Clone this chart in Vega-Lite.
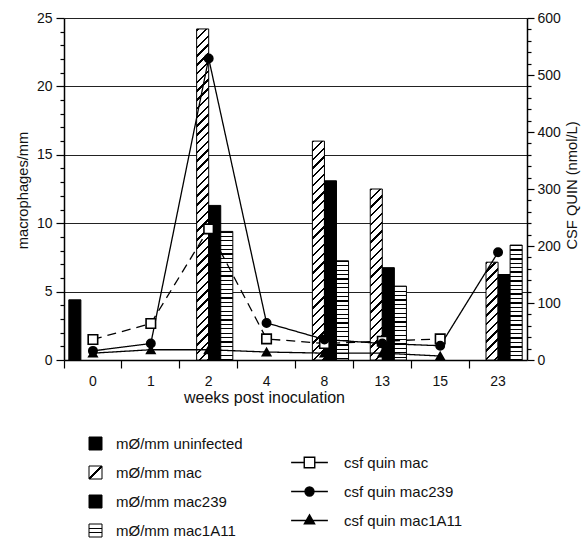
{
  "$schema": "https://vega.github.io/schema/vega-lite/v6.json",
  "width": 463,
  "height": 342,
  "autosize": "none",
  "padding": {"left": 64, "top": 18, "right": 57, "bottom": 181},
  "background": "#ffffff",
  "config": {
    "font": "Liberation Sans",
    "view": {"stroke": null},
    "axis": {"labelFont": "Liberation Sans", "titleFont": "Liberation Sans", "labelColor": "#111", "titleColor": "#111", "titleFontWeight": "normal", "labelFontSize": 14, "titleFontSize": 14.7, "domainColor": "#000", "tickColor": "#000", "domainWidth": 1.5, "tickWidth": 1.2},
    "legend": {"labelFont": "Liberation Sans", "labelFontSize": 15, "labelColor": "#111"}
  },
  "params": [
    {"name": "stripeStops", "value": [
      {"offset":0,"color":"#000"},{"offset":0.007,"color":"#000"},{"offset":0.007,"color":"#fff"},{"offset":0.025,"color":"#fff"},
      {"offset":0.025,"color":"#000"},{"offset":0.032,"color":"#000"},{"offset":0.032,"color":"#fff"},{"offset":0.05,"color":"#fff"},
      {"offset":0.05,"color":"#000"},{"offset":0.057,"color":"#000"},{"offset":0.057,"color":"#fff"},{"offset":0.075,"color":"#fff"},
      {"offset":0.075,"color":"#000"},{"offset":0.082,"color":"#000"},{"offset":0.082,"color":"#fff"},{"offset":0.1,"color":"#fff"},
      {"offset":0.1,"color":"#000"},{"offset":0.107,"color":"#000"},{"offset":0.107,"color":"#fff"},{"offset":0.125,"color":"#fff"},
      {"offset":0.125,"color":"#000"},{"offset":0.132,"color":"#000"},{"offset":0.132,"color":"#fff"},{"offset":0.15,"color":"#fff"},
      {"offset":0.15,"color":"#000"},{"offset":0.157,"color":"#000"},{"offset":0.157,"color":"#fff"},{"offset":0.175,"color":"#fff"},
      {"offset":0.175,"color":"#000"},{"offset":0.182,"color":"#000"},{"offset":0.182,"color":"#fff"},{"offset":0.2,"color":"#fff"},
      {"offset":0.2,"color":"#000"},{"offset":0.207,"color":"#000"},{"offset":0.207,"color":"#fff"},{"offset":0.225,"color":"#fff"},
      {"offset":0.225,"color":"#000"},{"offset":0.232,"color":"#000"},{"offset":0.232,"color":"#fff"},{"offset":0.25,"color":"#fff"},
      {"offset":0.25,"color":"#000"},{"offset":0.257,"color":"#000"},{"offset":0.257,"color":"#fff"},{"offset":0.275,"color":"#fff"},
      {"offset":0.275,"color":"#000"},{"offset":0.282,"color":"#000"},{"offset":0.282,"color":"#fff"},{"offset":0.3,"color":"#fff"},
      {"offset":0.3,"color":"#000"},{"offset":0.307,"color":"#000"},{"offset":0.307,"color":"#fff"},{"offset":0.325,"color":"#fff"},
      {"offset":0.325,"color":"#000"},{"offset":0.332,"color":"#000"},{"offset":0.332,"color":"#fff"},{"offset":0.35,"color":"#fff"},
      {"offset":0.35,"color":"#000"},{"offset":0.357,"color":"#000"},{"offset":0.357,"color":"#fff"},{"offset":0.375,"color":"#fff"},
      {"offset":0.375,"color":"#000"},{"offset":0.382,"color":"#000"},{"offset":0.382,"color":"#fff"},{"offset":0.4,"color":"#fff"},
      {"offset":0.4,"color":"#000"},{"offset":0.407,"color":"#000"},{"offset":0.407,"color":"#fff"},{"offset":0.425,"color":"#fff"},
      {"offset":0.425,"color":"#000"},{"offset":0.432,"color":"#000"},{"offset":0.432,"color":"#fff"},{"offset":0.45,"color":"#fff"},
      {"offset":0.45,"color":"#000"},{"offset":0.457,"color":"#000"},{"offset":0.457,"color":"#fff"},{"offset":0.475,"color":"#fff"},
      {"offset":0.475,"color":"#000"},{"offset":0.482,"color":"#000"},{"offset":0.482,"color":"#fff"},{"offset":0.5,"color":"#fff"},
      {"offset":0.5,"color":"#000"},{"offset":0.507,"color":"#000"},{"offset":0.507,"color":"#fff"},{"offset":0.525,"color":"#fff"},
      {"offset":0.525,"color":"#000"},{"offset":0.532,"color":"#000"},{"offset":0.532,"color":"#fff"},{"offset":0.55,"color":"#fff"},
      {"offset":0.55,"color":"#000"},{"offset":0.557,"color":"#000"},{"offset":0.557,"color":"#fff"},{"offset":0.575,"color":"#fff"},
      {"offset":0.575,"color":"#000"},{"offset":0.582,"color":"#000"},{"offset":0.582,"color":"#fff"},{"offset":0.6,"color":"#fff"},
      {"offset":0.6,"color":"#000"},{"offset":0.607,"color":"#000"},{"offset":0.607,"color":"#fff"},{"offset":0.625,"color":"#fff"},
      {"offset":0.625,"color":"#000"},{"offset":0.632,"color":"#000"},{"offset":0.632,"color":"#fff"},{"offset":0.65,"color":"#fff"},
      {"offset":0.65,"color":"#000"},{"offset":0.657,"color":"#000"},{"offset":0.657,"color":"#fff"},{"offset":0.675,"color":"#fff"},
      {"offset":0.675,"color":"#000"},{"offset":0.682,"color":"#000"},{"offset":0.682,"color":"#fff"},{"offset":0.7,"color":"#fff"},
      {"offset":0.7,"color":"#000"},{"offset":0.707,"color":"#000"},{"offset":0.707,"color":"#fff"},{"offset":0.725,"color":"#fff"},
      {"offset":0.725,"color":"#000"},{"offset":0.732,"color":"#000"},{"offset":0.732,"color":"#fff"},{"offset":0.75,"color":"#fff"},
      {"offset":0.75,"color":"#000"},{"offset":0.757,"color":"#000"},{"offset":0.757,"color":"#fff"},{"offset":0.775,"color":"#fff"},
      {"offset":0.775,"color":"#000"},{"offset":0.782,"color":"#000"},{"offset":0.782,"color":"#fff"},{"offset":0.8,"color":"#fff"},
      {"offset":0.8,"color":"#000"},{"offset":0.807,"color":"#000"},{"offset":0.807,"color":"#fff"},{"offset":0.825,"color":"#fff"},
      {"offset":0.825,"color":"#000"},{"offset":0.832,"color":"#000"},{"offset":0.832,"color":"#fff"},{"offset":0.85,"color":"#fff"},
      {"offset":0.85,"color":"#000"},{"offset":0.857,"color":"#000"},{"offset":0.857,"color":"#fff"},{"offset":0.875,"color":"#fff"},
      {"offset":0.875,"color":"#000"},{"offset":0.882,"color":"#000"},{"offset":0.882,"color":"#fff"},{"offset":0.9,"color":"#fff"},
      {"offset":0.9,"color":"#000"},{"offset":0.907,"color":"#000"},{"offset":0.907,"color":"#fff"},{"offset":0.925,"color":"#fff"},
      {"offset":0.925,"color":"#000"},{"offset":0.932,"color":"#000"},{"offset":0.932,"color":"#fff"},{"offset":0.95,"color":"#fff"},
      {"offset":0.95,"color":"#000"},{"offset":0.957,"color":"#000"},{"offset":0.957,"color":"#fff"},{"offset":0.975,"color":"#fff"},
      {"offset":0.975,"color":"#000"},{"offset":0.982,"color":"#000"},{"offset":0.982,"color":"#fff"},{"offset":1,"color":"#fff"}
    ]}
  ],
  "encoding": {
    "x": {
      "field": "week", "type": "ordinal",
      "scale": {"type": "band", "domain": ["0","1","2","4","8","13","15","23"], "paddingInner": 0, "paddingOuter": 0},
      "axis": {"title": "weeks post inoculation", "bandPosition": 0, "tickSize": 8, "labelPadding": 6, "labelAngle": 0, "grid": false, "titleX": 200, "titleY": 42, "titleBaseline": "alphabetic", "titleAlign": "center", "titleAnchor": null, "titleFontSize": 16}
    }
  },
  "layer": [
    {
      "data": {"values": [
        {"week":"0","series":"mØ/mm uninfected","value":4.4},
        {"week":"2","series":"mØ/mm mac","value":24.2},
        {"week":"2","series":"mØ/mm mac239","value":11.3},
        {"week":"2","series":"mØ/mm mac1A11","value":9.4},
        {"week":"8","series":"mØ/mm mac","value":16.0},
        {"week":"8","series":"mØ/mm mac239","value":13.1},
        {"week":"8","series":"mØ/mm mac1A11","value":7.25},
        {"week":"13","series":"mØ/mm mac","value":12.5},
        {"week":"13","series":"mØ/mm mac239","value":6.75},
        {"week":"13","series":"mØ/mm mac1A11","value":5.4},
        {"week":"23","series":"mØ/mm mac","value":7.15},
        {"week":"23","series":"mØ/mm mac239","value":6.25},
        {"week":"23","series":"mØ/mm mac1A11","value":8.4}
      ]},
      "mark": {"type": "bar", "stroke": "#000", "strokeWidth": 1},
      "encoding": {
        "y": {
          "field": "value", "type": "quantitative", "stack": null,
          "scale": {"domain": [0, 25], "nice": false, "zero": true},
          "axis": {
            "title": "macrophages/mm",
            "values": [0,1,2,3,4,5,6,7,8,9,10,11,12,13,14,15,16,17,18,19,20,21,22,23,24,25],
            "labelExpr": "datum.value % 5 === 0 ? datum.label : ''",
            "labelOverlap": false, "labelFlush": false,
            "tickSize": {"condition": {"test": "datum.value % 5 === 0", "value": 8}, "value": 4},
            "labelPadding": 4,
            "grid": true, "gridColor": "#222", "gridWidth": 1,
            "gridOpacity": {"condition": {"test": "datum.value % 5 === 0 && datum.value > 0", "value": 1}, "value": 0},
            "titlePadding": 6, "titleY": 172
          }
        },
        "xOffset": {"field": "series", "type": "nominal", "scale": {"domain": ["mØ/mm uninfected","mØ/mm mac","mØ/mm mac239","mØ/mm mac1A11"], "paddingInner": 0, "paddingOuter": 0.4}},
        "fill": {
          "field": "series", "type": "nominal",
          "scale": {"domain": ["mØ/mm uninfected","mØ/mm mac","mØ/mm mac239","mØ/mm mac1A11"], "range": [
            "#000",
            {"expr": "{gradient: 'linear', x1: 0, y1: 0, x2: 1, y2: 1, stops: [{offset: 0, color: '#fff'}, {offset: 0.46, color: '#fff'}, {offset: 0.46, color: '#000'}, {offset: 0.54, color: '#000'}, {offset: 0.54, color: '#fff'}, {offset: 1, color: '#fff'}]}"},
            "#000",
            {"expr": "{gradient: 'linear', x1: 0, y1: 0, x2: 0, y2: 1, stops: [{offset: 0, color: '#fff'}, {offset: 0.3, color: '#fff'}, {offset: 0.3, color: '#000'}, {offset: 0.38, color: '#000'}, {offset: 0.38, color: '#fff'}, {offset: 0.62, color: '#fff'}, {offset: 0.62, color: '#000'}, {offset: 0.7, color: '#000'}, {offset: 0.7, color: '#fff'}, {offset: 1, color: '#fff'}]}"}
          ]},
          "condition": [
            {"test": "datum.series === 'mØ/mm mac'", "value": {"expr": "{gradient: 'linear', x1: 0, y1: 0, x2: 4220 / (145.4 + pow(datum.value * 13.68, 2)), y2: 350 * datum.value * 13.68 / (145.4 + pow(datum.value * 13.68, 2)), stops: stripeStops}"}},
            {"test": "datum.series === 'mØ/mm mac1A11'", "value": {"expr": "{gradient: 'linear', x1: 0, y1: 0, x2: 0, y2: 176 / (datum.value * 13.68), stops: stripeStops}"}}
          ],
          "legend": {
            "orient": "none", "legendX": 24, "legendY": 418, "title": null,
            "symbolType": "square", "symbolSize": 169, "rowPadding": 12, "labelOffset": 13, "padding": 0,
            "symbolStrokeColor": "#000", "symbolStrokeWidth": 1,
            "labelExpr": "datum.value === 'mØ/mm mac' ? '\u00a0' + datum.label : datum.label"
          }
        }
      }
    },
    {
      "data": {"values": [
        {"week":"0","series":"csf quin mac","value":36},
        {"week":"1","series":"csf quin mac","value":64},
        {"week":"2","series":"csf quin mac","value":230},
        {"week":"4","series":"csf quin mac","value":37},
        {"week":"8","series":"csf quin mac","value":29},
        {"week":"13","series":"csf quin mac","value":33},
        {"week":"15","series":"csf quin mac","value":37},
        {"week":"0","series":"csf quin mac239","value":16},
        {"week":"1","series":"csf quin mac239","value":29},
        {"week":"2","series":"csf quin mac239","value":529},
        {"week":"4","series":"csf quin mac239","value":65},
        {"week":"8","series":"csf quin mac239","value":36},
        {"week":"13","series":"csf quin mac239","value":29},
        {"week":"15","series":"csf quin mac239","value":25},
        {"week":"23","series":"csf quin mac239","value":189},
        {"week":"0","series":"csf quin mac1A11","value":12},
        {"week":"1","series":"csf quin mac1A11","value":18},
        {"week":"2","series":"csf quin mac1A11","value":18},
        {"week":"4","series":"csf quin mac1A11","value":14},
        {"week":"8","series":"csf quin mac1A11","value":12},
        {"week":"13","series":"csf quin mac1A11","value":12},
        {"week":"15","series":"csf quin mac1A11","value":7}
      ]},
      "encoding": {
        "y": {
          "field": "value", "type": "quantitative",
          "scale": {"domain": [0, 600], "nice": false, "zero": true},
          "axis": {
            "orient": "right", "title": "CSF QUIN (nmol/L)",
            "values": [0,20,40,60,80,100,120,140,160,180,200,220,240,260,280,300,320,340,360,380,400,420,440,460,480,500,520,540,560,580,600],
            "labelExpr": "datum.value % 100 === 0 ? datum.label : ''",
            "labelOverlap": false, "labelFlush": false,
            "tickSize": {"condition": {"test": "datum.value % 100 === 0", "value": 7}, "value": 4},
            "labelPadding": 3, "grid": false,
            "titleAngle": 270, "titleBaseline": "top", "titlePadding": 4, "titleY": 167
          }
        }
      },
      "layer": [
        {
          "mark": {"type": "line", "color": "#000", "strokeWidth": 1.3},
          "encoding": {
            "detail": {"field": "series", "type": "nominal"},
            "strokeDash": {"condition": {"test": "datum.series === 'csf quin mac'", "value": [9, 6]}, "value": [1, 0]}
          }
        },
        {
          "mark": {"type": "point", "filled": true, "opacity": 1, "stroke": "#000", "strokeWidth": 1.6},
          "encoding": {
            "fill": {"condition": {"test": "datum.series === 'csf quin mac'", "value": "#fff"}, "value": "#000"},
            "size": {"condition": {"test": "datum.series === 'csf quin mac'", "value": 90}, "value": 70},
            "shape": {
              "field": "series", "type": "nominal",
              "scale": {"domain": ["csf quin mac","csf quin mac239","csf quin mac1A11"], "range": [
                "M-2.45,0H-0.7M0.7,0H2.45M-0.7,-0.7H0.7V0.7H-0.7Z",
                "M-2.45,0H2.45M-0.6,0A0.6,0.6,0,1,1,0.6,0A0.6,0.6,0,1,1,-0.6,0Z",
                "M-2.45,0H2.45M0,-0.75L0.68,0.45H-0.68Z"
              ]},
              "condition": [
                {"test": "datum.series === 'csf quin mac'", "value": "square"},
                {"test": "datum.series === 'csf quin mac239'", "value": "circle"},
                {"test": "datum.series === 'csf quin mac1A11'", "value": "triangle-up"}
              ],
              "legend": {
                "orient": "none", "legendX": 237, "legendY": 436, "title": null,
                "symbolSize": 225, "rowPadding": 12, "labelOffset": 26, "padding": 0,
                "symbolStrokeColor": "#000", "symbolStrokeWidth": 1.4,
                "encoding": {
                  "symbols": {
                    "fill": {"condition": {"test": "datum.value === 'csf quin mac'", "value": "#fff"}, "value": "#000"},
                    "stroke": {"value": "#000"},
                    "opacity": {"value": 1}
                  }
                }
              }
            }
          }
        }
      ]
    }
  ],
  "resolve": {"scale": {"y": "independent"}}
}
